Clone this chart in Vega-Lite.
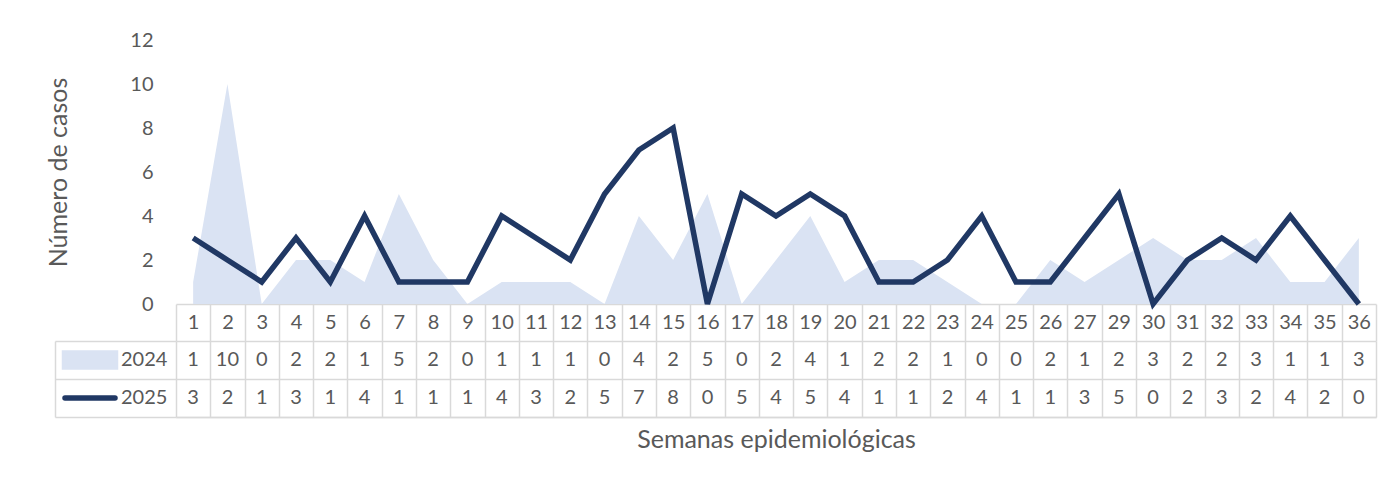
{
  "$schema": "https://vega.github.io/schema/vega-lite/v6.json",
  "padding": {"left": 46, "top": 30, "right": 5, "bottom": 5},
  "background": "white",
  "bounds": "flush",
  "spacing": 37,
  "config": {
    "font": "Lato",
    "view": {"stroke": null},
    "axis": {
      "labelFont": "Lato",
      "titleFont": "Lato",
      "labelColor": "#595959",
      "titleColor": "#595959",
      "labelFontSize": 20,
      "titleFontSize": 25,
      "titleFontWeight": "normal"
    }
  },
  "datasets": {
    "casos": [
      {"semana": "1", "2024": 1, "2025": 3},
      {"semana": "2", "2024": 10, "2025": 2},
      {"semana": "3", "2024": 0, "2025": 1},
      {"semana": "4", "2024": 2, "2025": 3},
      {"semana": "5", "2024": 2, "2025": 1},
      {"semana": "6", "2024": 1, "2025": 4},
      {"semana": "7", "2024": 5, "2025": 1},
      {"semana": "8", "2024": 2, "2025": 1},
      {"semana": "9", "2024": 0, "2025": 1},
      {"semana": "10", "2024": 1, "2025": 4},
      {"semana": "11", "2024": 1, "2025": 3},
      {"semana": "12", "2024": 1, "2025": 2},
      {"semana": "13", "2024": 0, "2025": 5},
      {"semana": "14", "2024": 4, "2025": 7},
      {"semana": "15", "2024": 2, "2025": 8},
      {"semana": "16", "2024": 5, "2025": 0},
      {"semana": "17", "2024": 0, "2025": 5},
      {"semana": "18", "2024": 2, "2025": 4},
      {"semana": "19", "2024": 4, "2025": 5},
      {"semana": "20", "2024": 1, "2025": 4},
      {"semana": "21", "2024": 2, "2025": 1},
      {"semana": "22", "2024": 2, "2025": 1},
      {"semana": "23", "2024": 1, "2025": 2},
      {"semana": "24", "2024": 0, "2025": 4},
      {"semana": "25", "2024": 0, "2025": 1},
      {"semana": "26", "2024": 2, "2025": 1},
      {"semana": "27", "2024": 1, "2025": 3},
      {"semana": "29", "2024": 2, "2025": 5},
      {"semana": "30", "2024": 3, "2025": 0},
      {"semana": "31", "2024": 2, "2025": 2},
      {"semana": "32", "2024": 2, "2025": 3},
      {"semana": "33", "2024": 3, "2025": 2},
      {"semana": "34", "2024": 1, "2025": 4},
      {"semana": "35", "2024": 1, "2025": 2},
      {"semana": "36", "2024": 3, "2025": 0}
    ]
  },
  "vconcat": [
    {
      "width": 1200,
      "height": 264,
      "data": {"name": "casos"},
      "transform": [{"fold": ["2024", "2025"], "as": ["serie", "casos"]}],
      "encoding": {
        "x": {
          "field": "semana",
          "type": "ordinal",
          "sort": null,
          "bandPosition": 0.5,
          "scale": {"type": "band", "paddingInner": 0, "paddingOuter": 0},
          "axis": {
            "title": null,
            "labelAngle": 0,
            "tickBand": "extent",
            "ticks": true,
            "tickSize": 37,
            "tickColor": "#d9d9d9",
            "tickWidth": 1.5,
            "domainColor": "#d9d9d9",
            "domainWidth": 1.5,
            "labelBaseline": "middle",
            "labelPadding": -18.5,
            "grid": false
          }
        },
        "y": {
          "field": "casos",
          "type": "quantitative",
          "scale": {"domain": [0, 12]},
          "axis": {
            "values": [0, 2, 4, 6, 8, 10, 12],
            "title": "Número de casos",
            "grid": false,
            "domain": false,
            "ticks": false,
            "labelPadding": 23,
            "titlePadding": 58
          }
        },
        "color": {
          "field": "serie",
          "type": "nominal",
          "scale": {"domain": ["2024", "2025"], "range": ["#dae3f3", "#203864"]},
          "legend": {
            "title": null,
            "orient": "none",
            "legendX": -121,
            "legendY": 301,
            "padding": 0,
            "labelFont": "Lato",
            "labelFontSize": 20,
            "labelColor": "#595959",
            "symbolSize": 100,
            "symbolOffset": 25,
            "labelOffset": 21,
            "clipHeight": 38,
            "rowPadding": 0,
            "encode": {
              "symbols": {
                "update": {
                  "shape": {"signal": "datum.value === '2024' ? 'M-5.1,-1.4H5.1V1.4H-5.1Z' : 'M-5.0,0H5.0'"},
                  "fill": {"signal": "datum.value === '2024' ? '#dae3f3' : 'transparent'"},
                  "stroke": {"signal": "datum.value === '2024' ? 'transparent' : '#203864'"},
                  "strokeWidth": {"value": 5.5},
                  "strokeCap": {"value": "round"},
                  "opacity": {"value": 1}
                }
              }
            }
          }
        }
      },
      "layer": [
        {
          "transform": [{"filter": "datum.serie === '2024'"}],
          "mark": {"type": "area", "opacity": 1}
        },
        {
          "transform": [{"filter": "datum.serie === '2025'"}],
          "mark": {"type": "line", "strokeWidth": 5.5}
        }
      ]
    },
    {
      "width": 1200,
      "height": 76,
      "data": {"name": "casos"},
      "transform": [{"fold": ["2024", "2025"], "as": ["serie", "casos"]}],
      "mark": {"type": "text", "fontSize": 20, "color": "#595959", "font": "Lato"},
      "encoding": {
        "x": {
          "field": "semana",
          "type": "ordinal",
          "sort": null,
          "scale": {"type": "band", "paddingInner": 0, "paddingOuter": 0},
          "axis": {
            "title": "Semanas epidemiológicas",
            "labels": false,
            "ticks": false,
            "domain": true,
            "domainColor": "#d9d9d9",
            "domainWidth": 1.5,
            "grid": true,
            "gridColor": "#d9d9d9",
            "gridWidth": 1.5,
            "tickBand": "extent",
            "titlePadding": 10
          }
        },
        "y": {
          "field": "serie",
          "type": "nominal",
          "scale": {"domain": ["2024", "2025"], "paddingInner": 0, "paddingOuter": 0},
          "axis": {
            "title": null,
            "labels": false,
            "domain": true,
            "domainColor": "#d9d9d9",
            "domainWidth": 1.5,
            "offset": 121,
            "ticks": true,
            "tickSize": -121,
            "tickColor": "#d9d9d9",
            "tickWidth": 1.5,
            "tickBand": "extent",
            "grid": true,
            "gridColor": "#d9d9d9",
            "gridWidth": 1.5
          }
        },
        "text": {"field": "casos", "type": "quantitative"}
      }
    }
  ]
}
